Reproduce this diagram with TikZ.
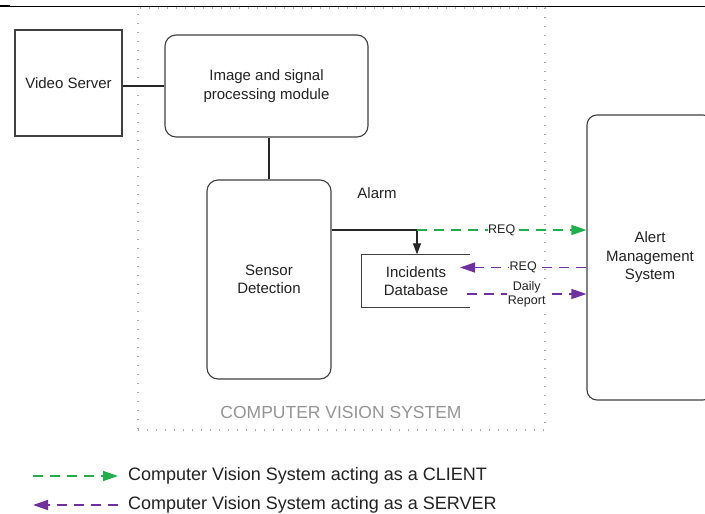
\documentclass[tikz,border=0pt]{standalone}
\usepackage{fontspec}
\setmainfont{Liberation Sans}
\usetikzlibrary{arrows.meta}
\definecolor{cvgreen}{HTML}{1FB04C}
\definecolor{cvpurple}{HTML}{7030A0}
\definecolor{boxgray}{HTML}{404040}
\definecolor{dotgray}{HTML}{A8A8A8}
\definecolor{labelgray}{HTML}{959595}
\definecolor{txt}{HTML}{222222}
\begin{document}
\begin{tikzpicture}[x=1pt,y=-1pt,
  box/.style={draw=boxgray, line width=1.1pt, fill=white, align=center, inner sep=0pt,
    text=txt, font=\fontsize{15}{18.5}\selectfont},
  rbox/.style={box, rounded corners=11pt},
  conn/.style={draw=black!85, line width=1.1pt},
  lbl/.style={font=\fontsize{12.5}{14}\selectfont, text=txt, fill=white, inner sep=0.6pt, align=center},
  client/.style={draw=cvgreen, line width=1.4pt, dash pattern=on 10pt off 7pt,
    -{Triangle[length=15pt,width=10pt]}},
  server/.style={draw=cvpurple, line width=1.4pt, dash pattern=on 10pt off 7pt,
    -{Triangle[length=15pt,width=10pt]}},
  legendtext/.style={anchor=west, inner sep=0pt, text=txt, font=\fontsize{18}{20}\selectfont},
]
\clip (0,0) rectangle (705,514);
\fill[white] (0,0) rectangle (705,514);

% top rule
\draw[line width=0.9pt] (0,6) -- (705,6);
\draw[line width=2.2pt] (0,6) -- (10,6);

% computer vision system frame
\node[draw=dotgray, line width=1.3pt, dash pattern=on 1.3pt off 7.7pt,
      minimum width=407pt, minimum height=422pt, inner sep=0pt] (cvs) at (341.5,219) {};
\node[text=labelgray, font=\fontsize{17.5}{20}\selectfont, inner sep=0pt] (cvslbl) at (341,412) {COMPUTER VISION SYSTEM};

% boxes
\node[box, minimum width=107pt, minimum height=106pt] (vs) at (68.5,83) {Video Server};
\node[rbox, minimum width=203pt, minimum height=102pt] (img) at (266.5,86) {Image and signal\\processing module};
\node[rbox, minimum width=124pt, minimum height=199pt] (sen) at (269,279.5) {Sensor\\Detection};
\node[rbox, rounded corners=10pt, minimum width=126pt, minimum height=285pt] (alert) at (650,257.5) {Alert\\Management\\System};
\node[align=center, inner sep=0pt, minimum width=108pt, minimum height=53pt, text=txt,
      font=\fontsize{15}{17.5}\selectfont] (db) at (416,281) {Incidents\\Database};
\draw[boxgray, line width=1.1pt] (db.north east) -- (db.north west) -- (db.south west) -- (db.south east);

\node[font=\fontsize{15}{17}\selectfont, text=txt, inner sep=0pt] (alarm) at (377,193) {Alarm};

% connectors
\draw[conn] (img.west) -- (img.west -| vs.east);
\draw[conn] (sen.north) -- (sen.north |- img.south);
\coordinate (split) at (417,230);
\draw[conn] (sen.east |- split) -- (split);
\draw[conn, -{Triangle[length=11pt,width=8pt]}] (split) -- (split |- db.north);

\draw[client] (split) -- (split -| alert.west) node[lbl, pos=0.5] {REQ};
\coordinate (rq) at (460,267.5);
\draw[server] (rq -| alert.west) -- (rq) node[lbl, pos=0.5] {REQ};
\coordinate (dr) at (467,294);
\draw[server] (dr) -- (dr -| alert.west) node[lbl, pos=0.5, font=\fontsize{12.5}{14}\selectfont] {Daily\\Report};

% legend
\coordinate (la1) at (33,476);
\coordinate (lb1) at (118,476);
\coordinate (la2) at (118,505);
\coordinate (lb2) at (33,505);
\draw[client] (la1) -- (lb1);
\draw[server] (la2) -- (lb2);
\node[legendtext] (lt1) at (128,476) {Computer Vision System acting as a CLIENT};
\node[legendtext] (lt2) at (128,505) {Computer Vision System acting as a SERVER};
\end{tikzpicture}
\end{document}
